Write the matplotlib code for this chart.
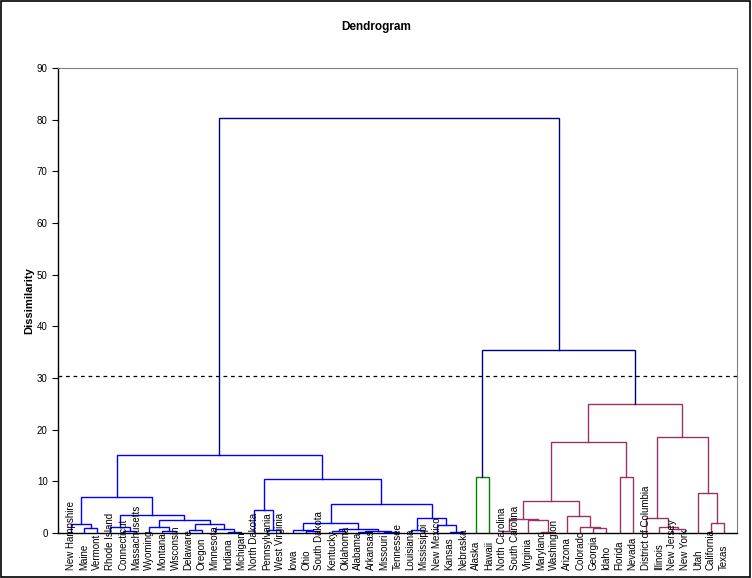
import matplotlib
matplotlib.use('Agg')
import matplotlib.pyplot as plt
from matplotlib.patches import Rectangle

plt.rcParams['font.family'] = ['Liberation Sans', 'DejaVu Sans']

# merge tree: (left, right, dissimilarity)
nh_group = ("New Hampshire", ("Maine", "Vermont", 0.9), 1.8)
ri_group = ("Rhode Island", ("Connecticut", "Massachusetts", 0.3), 1.15)
wy_group = (("Wyoming", ("Montana", "Wisconsin", 0.4), 1.1),
            (("Delaware", "Oregon", 0.6),
             ("Minnesota", ("Indiana", "Michigan", 0.15), 0.7), 1.7), 2.45)
east = (nh_group, (ri_group, wy_group, 3.45), 7.0)

nd_group = ("North Dakota", ("Pennsylvania", "West Virginia", 0.6), 4.4)
iowa_group = (("Iowa", ("Ohio", "South Dakota", 0.3), 0.5),
              (("Kentucky", "Oklahoma", 0.4),
               (("Alabama", "Arkansas", 0.2), ("Missouri", "Tennessee", 0.15), 0.4), 0.85), 1.9)
la_group = (("Louisiana", "Mississippi", 0.6),
            ("New Mexico", ("Kansas", "Nebraska", 0.25), 1.5), 2.85)
middle = (nd_group, (iowa_group, la_group, 5.55), 10.4)
blue_cluster = (east, middle, 15.1)

green_cluster = ("Alaska", "Hawaii", 10.8)

south = (((("North Carolina", "South Carolina", 0.4),
           ("Virginia", ("Maryland", "Washington", 0.25), 2.45), 2.65),
          ("Arizona", ("Colorado", ("Georgia", "Idaho", 0.9), 1.1), 3.2), 6.1),
         ("Florida", "Nevada", 10.8), 17.55)
big = (("District of Columbia", ("Illinois", ("New Jersey", "New York", 0.7), 1.1), 2.85),
       ("Utah", ("California", "Texas", 1.9), 7.7), 18.5)
purple_cluster = (south, big, 24.9)

right_side = (green_cluster, purple_cluster, 35.5)
root = (blue_cluster, right_side, 80.4)

cutoff = 30.3

colors = {id(blue_cluster): '#0000FF', id(green_cluster): '#008000',
          id(purple_cluster): '#993366'}
navy = '#000080'

fig = plt.figure(figsize=(7.52, 5.78), dpi=100)
ax = fig.add_axes([0.0771, 0.0779, 0.903, 0.8045])

leaves = []


def draw(node, color):
    if isinstance(node, str):
        leaves.append(node)
        return len(leaves) - 1, 0.0
    c = colors.get(id(node), color)
    left, right, h = node
    xl, hl = draw(left, c)
    xr, hr = draw(right, c)
    ax.plot([xl, xl, xr, xr], [hl, h, h, hr], color=c, lw=1.0,
            solid_joinstyle='miter')
    return (xl + xr) / 2, h


draw(root, navy)

for i, name in enumerate(leaves):
    ax.text(i, -0.08, name, rotation=90, ha='center', va='bottom',
            fontsize=7, transform=ax.get_xaxis_transform(), clip_on=False)

ax.axhline(cutoff, color='black', lw=0.9, ls=(0, (3, 3)))

ax.set_xlim(-1, len(leaves))
ax.set_ylim(0, 90)
ax.set_yticks(range(0, 91, 10))
ax.set_xticks([])
ax.tick_params(axis='y', direction='out', length=4, labelsize=7, width=0.8)
ax.spines['top'].set_color('#808080')
ax.spines['right'].set_color('#808080')
for s in ['left', 'bottom']:
    ax.spines[s].set_linewidth(1.0)
ax.set_ylabel('Dissimilarity', fontsize=8, fontweight='bold', labelpad=2)
fig.text(0.5, 0.953, 'Dendrogram', ha='center', va='center',
         fontsize=8.5, fontweight='bold')

fig.patches.append(Rectangle((0.001, 0.001), 0.997, 0.997, transform=fig.transFigure,
                             fill=False, ec='black', lw=1.2))

plt.savefig('out.png', dpi=100)
